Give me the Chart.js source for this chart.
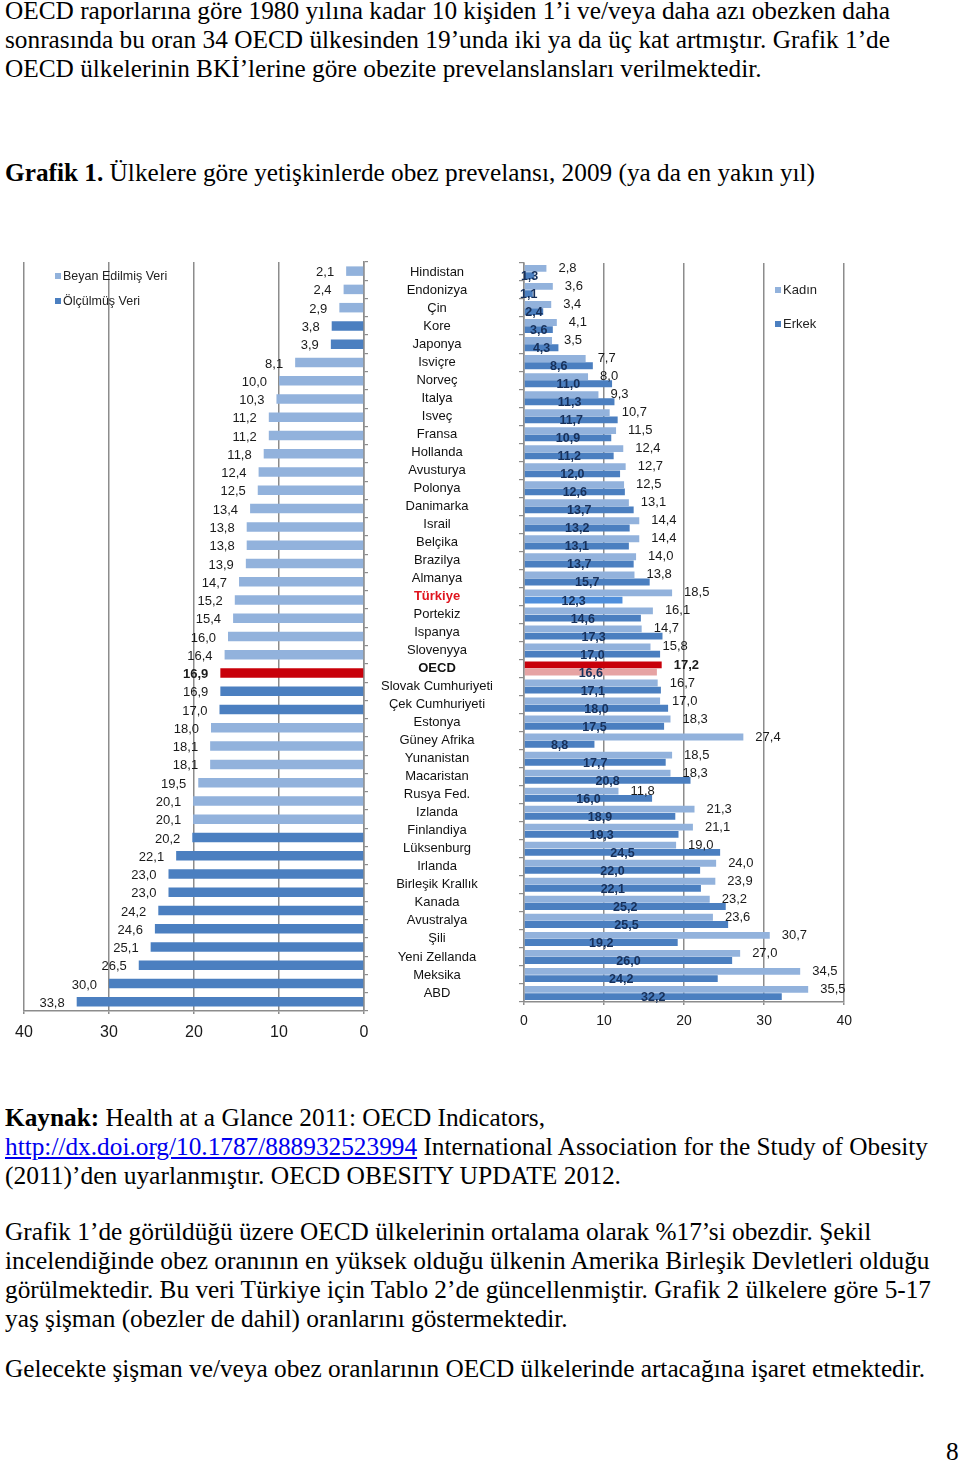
<!DOCTYPE html>
<html lang="tr">
<head>
<meta charset="utf-8">
<title>Grafik 1 - Obez prevelansı</title>
<script src="https://cdn.jsdelivr.net/npm/chart.js@4.4.1/dist/chart.umd.min.js"></script>
<style>
  html, body { margin: 0; padding: 0; background: #fff; }
  #page { position: relative; width: 960px; height: 1462px; overflow: hidden; font-family: 'Liberation Serif', 'Times New Roman', serif; color: #000; }
  .ln { position: absolute; left: 5px; white-space: nowrap; font-size: 25.3px; line-height: 25px; transform-origin: 0 0; }
  .cond { font-size: 25px; line-height: 25px; }
  a { color: #0000ee; text-decoration: underline; }
  canvas { position: absolute; }
  .lg { position: absolute; font-family: 'Liberation Sans', Arial, sans-serif; font-size: 12.5px; line-height: 14px; color: #222; white-space: nowrap; }
  .lg i { display: inline-block; width: 6px; height: 6px; margin-right: 2px; vertical-align: 1px; }
</style>
</head>
<body>
<div id="page">
  <div class="ln" style="top:-2px" data-w="885" data-fit="space">OECD raporlarına göre 1980 yılına kadar 10 kişiden 1’i ve/veya daha azı obezken daha</div>
  <div class="ln" style="top:27px" data-w="885" data-fit="space">sonrasında bu oran 34 OECD ülkesinden 19’unda iki ya da üç kat artmıştır. Grafik 1’de</div>
  <div class="ln" style="top:56px">OECD ülkelerinin BKİ’lerine göre obezite prevelanslansları verilmektedir.</div>

  <div class="ln cond" style="top:160px" data-w="810"><b>Grafik 1.</b> Ülkelere göre yetişkinlerde obez prevelansı, 2009 (ya da en yakın yıl)</div>

  <canvas id="leftChart" width="372" height="800" style="left:0;top:250px"></canvas>
  <canvas id="rightChart" width="495" height="800" style="left:365px;top:250px"></canvas>

  <div class="lg" style="left:55px;top:269px"><i style="background:#92b2dc"></i>Beyan Edilmiş Veri</div>
  <div class="lg" style="left:55px;top:294px"><i style="background:#4b7fc0"></i>Ölçülmüş Veri</div>
  <div class="lg" style="left:775px;top:283px;font-size:13px"><i style="background:#92b2dc"></i>Kadın</div>
  <div class="lg" style="left:775px;top:317px;font-size:13px"><i style="background:#4b7fc0"></i>Erkek</div>

  <div class="ln cond" style="top:1105px" data-w="540"><b>Kaynak:</b> Health at a Glance 2011: OECD Indicators,</div>
  <div class="ln cond" style="top:1134px" data-w="923"><a href="http://dx.doi.org/10.1787/888932523994">http://dx.doi.org/10.1787/888932523994</a> International Association for the Study of Obesity</div>
  <div class="ln cond" style="top:1163px" data-w="616">(2011)’den uyarlanmıştır. OECD OBESITY UPDATE 2012.</div>

  <div class="ln" style="top:1219px">Grafik 1’de görüldüğü üzere OECD ülkelerinin ortalama olarak %17’si obezdir. Şekil</div>
  <div class="ln" style="top:1248px">incelendiğinde obez oranının en yüksek olduğu ülkenin Amerika Birleşik Devletleri olduğu</div>
  <div class="ln" style="top:1277px">görülmektedir. Bu veri Türkiye için Tablo 2’de güncellenmiştir. Grafik 2 ülkelere göre 5-17</div>
  <div class="ln" style="top:1306px">yaş şişman (obezler de dahil) oranlarını göstermektedir.</div>

  <div class="ln" style="top:1356px">Gelecekte şişman ve/veya obez oranlarının OECD ülkelerinde artacağına işaret etmektedir.</div>

  <div class="ln" style="top:1439px;left:946px">8</div>
</div>

<script>
const countries = ['Hindistan', 'Endonizya', 'Çin', 'Kore', 'Japonya', 'Isviçre', 'Norveç', 'Italya', 'Isveç', 'Fransa',
  'Hollanda', 'Avusturya', 'Polonya', 'Danimarka', 'Israil', 'Belçika', 'Brazilya', 'Almanya', 'Türkiye', 'Portekiz',
  'Ispanya', 'Slovenyya', 'OECD', 'Slovak Cumhuriyeti', 'Çek Cumhuriyeti', 'Estonya', 'Güney Afrika', 'Yunanistan',
  'Macaristan', 'Rusya Fed.', 'Izlanda', 'Finlandiya', 'Lüksenburg', 'Irlanda', 'Birleşik Krallık', 'Kanada',
  'Avustralya', 'Şili', 'Yeni Zellanda', 'Meksika', 'ABD'];

// left chart: total adult obesity (%), sorted as in the source
const total = [2.1, 2.4, 2.9, 3.8, 3.9, 8.1, 10.0, 10.3, 11.2, 11.2, 11.8, 12.4, 12.5, 13.4, 13.8, 13.8, 13.9, 14.7,
  15.2, 15.4, 16.0, 16.4, 16.9, 16.9, 17.0, 18.0, 18.1, 18.1, 19.5, 20.1, 20.1, 20.2, 22.1, 23.0, 23.0, 24.2, 24.6,
  25.1, 26.5, 30.0, 33.8];

// B = beyan edilmiş veri, O = ölçülmüş veri, A = OECD ortalaması
const source = ['B', 'B', 'B', 'O', 'O',
  'B', 'B', 'B', 'B', 'B', 'B', 'B', 'B', 'B', 'B', 'B', 'B', 'B', 'B', 'B', 'B', 'B',
  'A', 'O', 'O',
  'B', 'B', 'B', 'B', 'B', 'B',
  'O', 'O', 'O', 'O', 'O', 'O', 'O', 'O', 'O', 'O'];

// right chart: women / men (%)
const women = [2.8, 3.6, 3.4, 4.1, 3.5, 7.7, 8.0, 9.3, 10.7, 11.5, 12.4, 12.7, 12.5, 13.1, 14.4, 14.4, 14.0, 13.8,
  18.5, 16.1, 14.7, 15.8, 17.2, 16.7, 17.0, 18.3, 27.4, 18.5, 18.3, 11.8, 21.3, 21.1, 19.0, 24.0, 23.9, 23.2, 23.6,
  30.7, 27.0, 34.5, 35.5];
const men = [1.3, 1.1, 2.4, 3.6, 4.3, 8.6, 11.0, 11.3, 11.7, 10.9, 11.2, 12.0, 12.6, 13.7, 13.2, 13.1, 13.7, 15.7,
  12.3, 14.6, 17.3, 17.0, 16.6, 17.1, 18.0, 17.5, 8.8, 17.7, 20.8, 16.0, 18.9, 19.3, 24.5, 22.0, 22.1, 25.2, 25.5,
  19.2, 26.0, 24.2, 32.2];

const xTicks = [0, 10, 20, 30, 40];

const LIGHT = '#92b2dc';
const DARK = '#4b7fc0';
const RED = '#c8000a';
const PINK = '#e6a3a3';
const GRID = '#8c8c8c';
const FONT = "'Liberation Sans', Arial, sans-serif";

const oecdIdx = countries.indexOf('OECD');
const turkeyIdx = countries.indexOf('Türkiye');

Chart.defaults.font.family = FONT;
Chart.defaults.color = '#1a1a1a';

// stretch / squeeze text lines to the widths of the scanned page
document.querySelectorAll('[data-w]').forEach((el) => {
  const w = +el.dataset.w;
  const nat = el.getBoundingClientRect().width;
  if (el.dataset.fit === 'space') {
    const gaps = (el.textContent.match(/ /g) || []).length;
    el.style.wordSpacing = (w - nat) / gaps + 'px';
  } else {
    el.style.transform = 'scaleX(' + w / nat + ')';
  }
});

const fmt = (v) => v.toFixed(1).replace('.', ',');

/**
 * Draws the value next to / on each bar
 * @param styleFn (datasetIndex, index) => {font, color, place, dy}
 */
function makeLabels(styleFn) {
  return {
    id: 'valueLabels',
    afterDatasetsDraw(chart) {
      const ctx = chart.ctx;
      ctx.save();
      ctx.textBaseline = 'middle';
      chart.data.datasets.forEach((ds, di) => {
        chart.getDatasetMeta(di).data.forEach((bar, i) => {
          const st = styleFn(di, i);
          let x;
          ctx.font = st.font;
          ctx.fillStyle = st.color;
          if (st.place === 'before') {
            ctx.textAlign = 'right';
            x = bar.x - 12;
          } else if (st.place === 'after') {
            ctx.textAlign = 'left';
            x = bar.x + 12;
          } else {
            ctx.textAlign = 'center';
            x = (bar.x + bar.base) / 2;
          }
          ctx.fillText(fmt(ds.data[i]), x, bar.y + (st.dy || 0));
        });
      });
      ctx.restore();
    },
  };
}

const xAxisTicks = (scale) => {
  scale.ticks = xTicks.map((v) => ({ value: v }));
};

// Render left chart (total)
const leftColors = { B: LIGHT, O: DARK, A: RED };
new Chart(document.getElementById('leftChart'), {
  type: 'bar',
  data: {
    labels: countries,
    datasets: [
      {
        data: total,
        backgroundColor: source.map((s) => leftColors[s]),
        barPercentage: 0.52,
        categoryPercentage: 1,
      },
    ],
  },
  options: {
    indexAxis: 'y',
    responsive: false,
    animation: false,
    devicePixelRatio: 1,
    layout: { padding: { left: 24, top: 12, right: 0, bottom: 0 } },
    plugins: { legend: { display: false }, tooltip: { enabled: false } },
    scales: {
      x: {
        min: 0,
        max: 40,
        reverse: true,
        afterBuildTicks: xAxisTicks,
        ticks: { padding: 9, color: '#1a1a1a', font: { size: 16 } },
        grid: { color: GRID, lineWidth: 1.5, tickLength: 3 },
        border: { color: GRID, width: 1.5 },
        afterFit: (s) => { s.height = 39; },
      },
      y: {
        position: 'right',
        ticks: { display: false },
        grid: { drawOnChartArea: false, tickLength: 4, color: GRID, lineWidth: 1.2 },
        border: { color: GRID, width: 1.5 },
        afterFit: (s) => { s.width = 8; },
      },
    },
  },
  plugins: [
    makeLabels((di, i) => ({
      font: (i === oecdIdx ? 'bold ' : '') + '13px ' + FONT,
      color: '#1a1a1a',
      place: 'before',
      dy: 1.5,
    })),
  ],
});

// padding so the country names are centred in the gap between the two charts
const mctx = document.createElement('canvas').getContext('2d');
mctx.font = '13px ' + FONT;
const widest = Math.max(...countries.map((c) => mctx.measureText(c).width));
const labelPad = 159 - 72 - 5 - widest / 2;

// Render right chart (women / men)
new Chart(document.getElementById('rightChart'), {
  type: 'bar',
  data: {
    labels: countries,
    datasets: [
      {
        label: 'Kadın',
        data: women,
        backgroundColor: countries.map((c, i) => (i === oecdIdx ? RED : LIGHT)),
        barPercentage: 0.95,
        categoryPercentage: 0.8,
      },
      {
        label: 'Erkek',
        data: men,
        backgroundColor: countries.map((c, i) => (i === oecdIdx ? PINK : i === turkeyIdx ? '#4f8fdc' : DARK)),
        barPercentage: 0.95,
        categoryPercentage: 0.8,
      },
    ],
  },
  options: {
    indexAxis: 'y',
    responsive: false,
    animation: false,
    devicePixelRatio: 1,
    layout: { padding: { left: 0, top: 13, right: 14.5, bottom: 0 } },
    plugins: { legend: { display: false }, tooltip: { enabled: false } },
    scales: {
      x: {
        min: 0,
        max: 40,
        afterBuildTicks: xAxisTicks,
        ticks: { padding: 8, color: '#1a1a1a', font: { size: 14 } },
        grid: { color: GRID, lineWidth: 1.5, tickLength: 3 },
        border: { color: GRID, width: 1.5 },
        afterFit: (s) => { s.height = 48; },
      },
      y: {
        position: 'left',
        ticks: {
          autoSkip: false,
          crossAlign: 'center',
          padding: labelPad,
          color: (c) => (c.index === turkeyIdx ? '#e0141e' : '#111'),
          font: (c) => ({ size: 13, weight: c.index === turkeyIdx || c.index === oecdIdx ? 'bold' : 'normal' }),
        },
        grid: { drawOnChartArea: false, tickLength: 5, color: GRID, lineWidth: 1.2 },
        border: { color: GRID, width: 1.5 },
        afterFit: (s) => {
          s.width = 159;
          // the wide tick padding must not push the plot area down
          s.paddingTop = 0;
          s.paddingBottom = 0;
        },
      },
    },
  },
  plugins: [
    makeLabels((di, i) =>
      di === 0
        ? { font: (i === oecdIdx ? 'bold ' : '') + '13px ' + FONT, color: '#1a1a1a', place: 'after', dy: 0 }
        : { font: 'bold 12.5px ' + FONT, color: '#17305a', place: 'center', dy: 1 }
    ),
  ],
});
</script>
</body>
</html>
